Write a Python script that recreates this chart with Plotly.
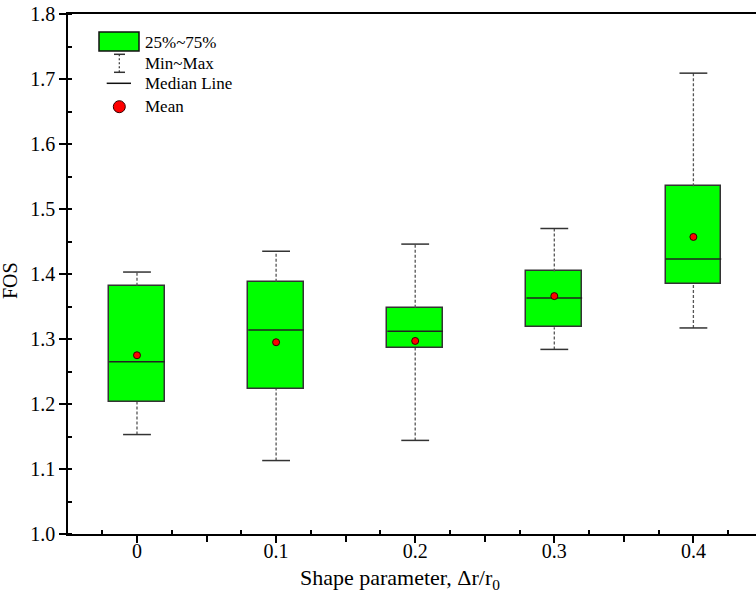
import plotly.graph_objects as go

# Shape parameter (x categories) and FOS statistics per group
shape_param = [0.0, 0.1, 0.2, 0.3, 0.4]
fos_min = [1.153, 1.113, 1.144, 1.284, 1.317]
fos_q1 = [1.203, 1.223, 1.286, 1.318, 1.384]
fos_median = [1.265, 1.314, 1.312, 1.363, 1.423]
fos_q3 = [1.382, 1.388, 1.348, 1.404, 1.535]
fos_max = [1.403, 1.435, 1.446, 1.470, 1.709]
fos_mean = [1.275, 1.295, 1.297, 1.366, 1.457]

x_tick_vals = [0.0, 0.1, 0.2, 0.3, 0.4]
x_tick_text = ["0", "0.1", "0.2", "0.3", "0.4"]
x_half_ticks = [0.05, 0.15, 0.25, 0.35]
x_minor_vals = [-0.025, 0.025, 0.075, 0.125, 0.175, 0.225, 0.275, 0.325, 0.375, 0.425]

legend_labels = ["25%~75%", "Min~Max", "Median Line", "Mean"]
x_title = "Shape parameter, \u0394r/r<sub>0</sub>"

BOX_W = 0.04
CAP_W = 0.02
FONT = "Liberation Serif"
GREEN = "#00FF00"
EDGE = "#333333"
WHISK = "#555555"
X_RANGE = [-0.0496, 0.445]

fig = go.Figure()

# interquartile boxes
fig.add_trace(go.Bar(
    x=shape_param,
    y=[q3 - q1 for q1, q3 in zip(fos_q1, fos_q3)],
    base=fos_q1,
    width=BOX_W,
    marker=dict(color=GREEN, line=dict(color=EDGE, width=1.5)),
    showlegend=False,
    hoverinfo="skip",
))

# dashed whiskers
wx, wy = [], []
for c, lo, q1, q3, hi in zip(shape_param, fos_min, fos_q1, fos_q3, fos_max):
    wx += [c, c, None, c, c, None]
    wy += [lo, q1, None, q3, hi, None]
fig.add_trace(go.Scatter(x=wx, y=wy, mode="lines",
                         line=dict(color=WHISK, width=1.3, dash="3px,2px"),
                         showlegend=False, hoverinfo="skip"))

# whisker caps
cx, cy = [], []
for c, lo, hi in zip(shape_param, fos_min, fos_max):
    cx += [c - CAP_W / 2, c + CAP_W / 2, None, c - CAP_W / 2, c + CAP_W / 2, None]
    cy += [lo, lo, None, hi, hi, None]
fig.add_trace(go.Scatter(x=cx, y=cy, mode="lines",
                         line=dict(color=EDGE, width=1.5),
                         showlegend=False, hoverinfo="skip"))

# median lines
mx, my = [], []
for c, m in zip(shape_param, fos_median):
    mx += [c - BOX_W / 2, c + BOX_W / 2, None]
    my += [m, m, None]
fig.add_trace(go.Scatter(x=mx, y=my, mode="lines",
                         line=dict(color="#222222", width=1.5),
                         showlegend=False, hoverinfo="skip"))

# means
fig.add_trace(go.Scatter(x=shape_param, y=fos_mean, mode="markers",
                         marker=dict(color="#FF0000", size=7,
                                     line=dict(color="#330000", width=1)),
                         showlegend=False, hoverinfo="skip"))

# plot area in pixels (left, top, right, bottom)
L, T, R, B = 68, 14, 756, 534


def px(x):
    return (x - L) / (R - L)


def py(y):
    return (B - y) / (B - T)


# hand-drawn legend
shapes = [
    dict(type="rect", xref="paper", yref="paper",
         x0=px(99), x1=px(139), y0=py(51), y1=py(32),
         fillcolor=GREEN, line=dict(color="#111111", width=1.5)),
    dict(type="line", xref="paper", yref="paper",
         x0=px(119.3), x1=px(119.3), y0=py(72.3), y1=py(54.3),
         line=dict(color=EDGE, width=1.2, dash="2px,2px")),
    dict(type="line", xref="paper", yref="paper",
         x0=px(114), x1=px(125), y0=py(54.3), y1=py(54.3),
         line=dict(color=EDGE, width=1.5)),
    dict(type="line", xref="paper", yref="paper",
         x0=px(114), x1=px(125), y0=py(72.3), y1=py(72.3),
         line=dict(color=EDGE, width=1.5)),
    dict(type="line", xref="paper", yref="paper",
         x0=px(106.7), x1=px(131), y0=py(83.3), y1=py(83.3),
         line=dict(color="#111111", width=1.5)),
    dict(type="circle", xref="paper", yref="paper",
         x0=px(113.3), x1=px(125.3), y0=py(112.7), y1=py(100.7),
         fillcolor="#FF0000", line=dict(color="#330000", width=1)),
]

annotations = []
for label, yc in zip(legend_labels, [42.5, 63.5, 84.0, 106.5]):
    annotations.append(dict(
        text=label, xref="paper", yref="paper", x=px(142.5), y=py(yc),
        xanchor="left", yanchor="middle", showarrow=False,
        font=dict(family=FONT, size=17, color="black")))

# axis titles
annotations.append(dict(
    text=x_title, xref="paper", yref="paper", x=px(400), y=py(579),
    xanchor="center", yanchor="middle", showarrow=False,
    font=dict(family=FONT, size=22, color="black")))
annotations.append(dict(
    text="FOS", xref="paper", yref="paper", x=px(10), y=py(281),
    xanchor="center", yanchor="middle", showarrow=False, textangle=-90,
    font=dict(family=FONT, size=20, color="black")))

fig.update_layout(
    width=756, height=599,
    margin=dict(l=L, r=756 - R, t=T, b=599 - B),
    plot_bgcolor="white", paper_bgcolor="white",
    shapes=shapes, annotations=annotations,
    bargap=0, showlegend=False,
    font=dict(family=FONT, size=20, color="black"),
    # overlay axis carrying the unlabeled outward ticks between categories
    xaxis2=dict(
        overlaying="x", side="bottom", anchor="y", range=X_RANGE,
        tickmode="array", tickvals=x_half_ticks, showticklabels=False,
        ticks="outside", ticklen=7, tickwidth=1.5, tickcolor="black",
        showline=False, showgrid=False, zeroline=False,
    ),
)

# invisible carrier trace so the overlay axis is drawn
fig.add_trace(go.Scatter(x=[shape_param[0]], y=[fos_mean[0]], xaxis="x2",
                         mode="markers", marker=dict(opacity=0),
                         showlegend=False, hoverinfo="skip"))

fig.layout.xaxis.update(
    range=X_RANGE,
    tickmode="array", tickvals=x_tick_vals, ticktext=x_tick_text,
    ticks="outside", ticklen=7, tickwidth=1.5, tickcolor="black",
    ticklabelstandoff=-9,
    minor=dict(tickmode="array", tickvals=x_minor_vals, ticks="inside",
               ticklen=4, tickwidth=1.5, tickcolor="black"),
    showline=True, linecolor="black", linewidth=1.5, mirror=True,
    showgrid=False, zeroline=False,
    tickfont=dict(family=FONT, size=20, color="black"),
)

fig.update_yaxes(
    range=[1.0, 1.8], dtick=0.1, tick0=1.0, tickformat=".1f",
    ticks="outside", ticklen=7, tickwidth=1.5, tickcolor="black",
    minor=dict(dtick=0.05, ticks="inside", ticklen=4, tickwidth=1.5,
               tickcolor="black"),
    showline=True, linecolor="black", linewidth=1.5,
    showgrid=False, zeroline=False,
    tickfont=dict(family=FONT, size=20, color="black"),
)

fig.write_html("out.html")
